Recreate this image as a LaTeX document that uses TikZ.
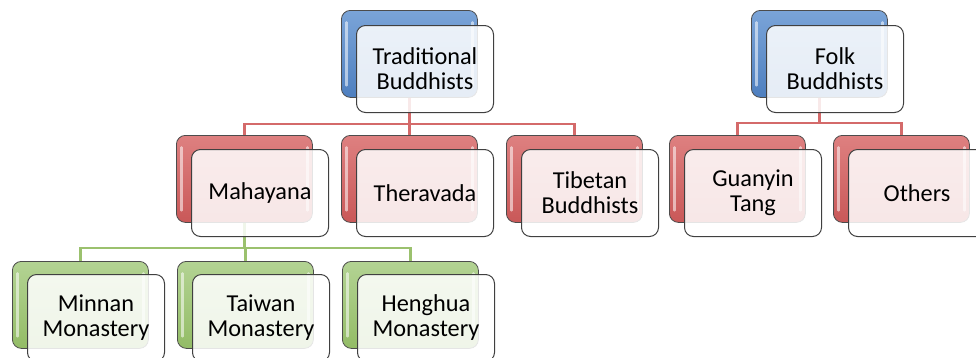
\documentclass[tikz,border=0pt]{standalone}
\usepackage{fontspec}
\setmainfont{Carlito}
\begin{document}
\begin{tikzpicture}[x=1pt,y=-1pt,
  backbox/.style={draw=black!70, line width=0.8pt, rounded corners=9pt,
    minimum width=136pt, minimum height=87pt, anchor=north west, inner sep=0pt,
    path picture={
      \draw[white, opacity=.55, line width=2.5pt, line cap=round]
        ([xshift=5pt,yshift=-12pt]path picture bounding box.north west) --
        ([xshift=5pt,yshift=12pt]path picture bounding box.south west);
      \draw[white, opacity=.55, line width=2.5pt, line cap=round]
        ([xshift=-5pt,yshift=-12pt]path picture bounding box.north east) --
        ([xshift=-5pt,yshift=12pt]path picture bounding box.south east);
    }},
  bluebox/.style={backbox, top color=bluehi, bottom color=bluelo},
  redbox/.style={backbox, top color=redhi, bottom color=redlo},
  greenbox/.style={backbox, top color=greenhi, bottom color=greenlo},
  frontbox/.style={draw=black!75, line width=1pt, rounded corners=9pt,
    fill=white, fill opacity=.86, text opacity=1,
    minimum width=137pt, minimum height=87pt, anchor=north west,
    align=center, font=\fontsize{24.3}{25}\selectfont, inner sep=0pt},
  redline/.style={draw=linered, line width=2.4pt},
  greenline/.style={draw=linegreen, line width=2.4pt}
]
\definecolor{bluehi}{HTML}{7AA4D8}
\definecolor{bluelo}{HTML}{4E7FBF}
\definecolor{redhi}{HTML}{DE8080}
\definecolor{redlo}{HTML}{C95858}
\definecolor{greenhi}{HTML}{B3D393}
\definecolor{greenlo}{HTML}{93BC66}
\definecolor{linered}{HTML}{D46A6A}
\definecolor{linegreen}{HTML}{9BC16E}
\useasboundingbox (0,0) rectangle (976,357);
\clip (0,0) rectangle (976,357);

% back boxes
\node[bluebox] (tbB) at (341,10) {};
\node[bluebox] (fbB) at (751,10) {};
\node[redbox] (mahB) at (176,135) {};
\node[redbox] (thB) at (341,135) {};
\node[redbox] (tiB) at (506,135) {};
\node[redbox] (guB) at (669,135) {};
\node[redbox] (otB) at (833,135) {};
\node[greenbox] (miB) at (12,261) {};
\node[greenbox] (twB) at (177,261) {};
\node[greenbox] (hhB) at (342,261) {};

% connectors
\draw[redline] (tbB.south) -- (tbB.south |- 0,124) -| (mahB.north);
\draw[redline] (tbB.south |- 0,124) -| (thB.north);
\draw[redline] (tbB.south |- 0,124) -| (tiB.north);
\draw[redline] (fbB.south) -- (fbB.south |- 0,123) -| (guB.north);
\draw[redline] (fbB.south |- 0,123) -| (otB.north);
\draw[greenline] (mahB.south) -- (mahB.south |- 0,248) -| (miB.north);
\draw[greenline] (mahB.south |- 0,248) -| (twB.north);
\draw[greenline] (mahB.south |- 0,248) -| (hhB.north);

% front boxes
\node[frontbox] (tb) at (356,25) {Traditional\\Buddhists};
\node[frontbox] (fb) at (766,25) {Folk\\Buddhists};
\node[frontbox] (mah) at (191,149) {Mahayana};
\node[frontbox] (th) at (356,149) {Theravada};
\node[frontbox] (ti) at (521,149) {Tibetan\\Buddhists};
\node[frontbox] (gu) at (684,149) {Guanyin\\Tang};
\node[frontbox] (ot) at (848,149) {Others};
\node[frontbox] (mi) at (27,274) {Minnan\\Monastery};
\node[frontbox] (tw) at (192,274) {Taiwan\\Monastery};
\node[frontbox] (hh) at (357,274) {Henghua\\Monastery};
\end{tikzpicture}
\end{document}
